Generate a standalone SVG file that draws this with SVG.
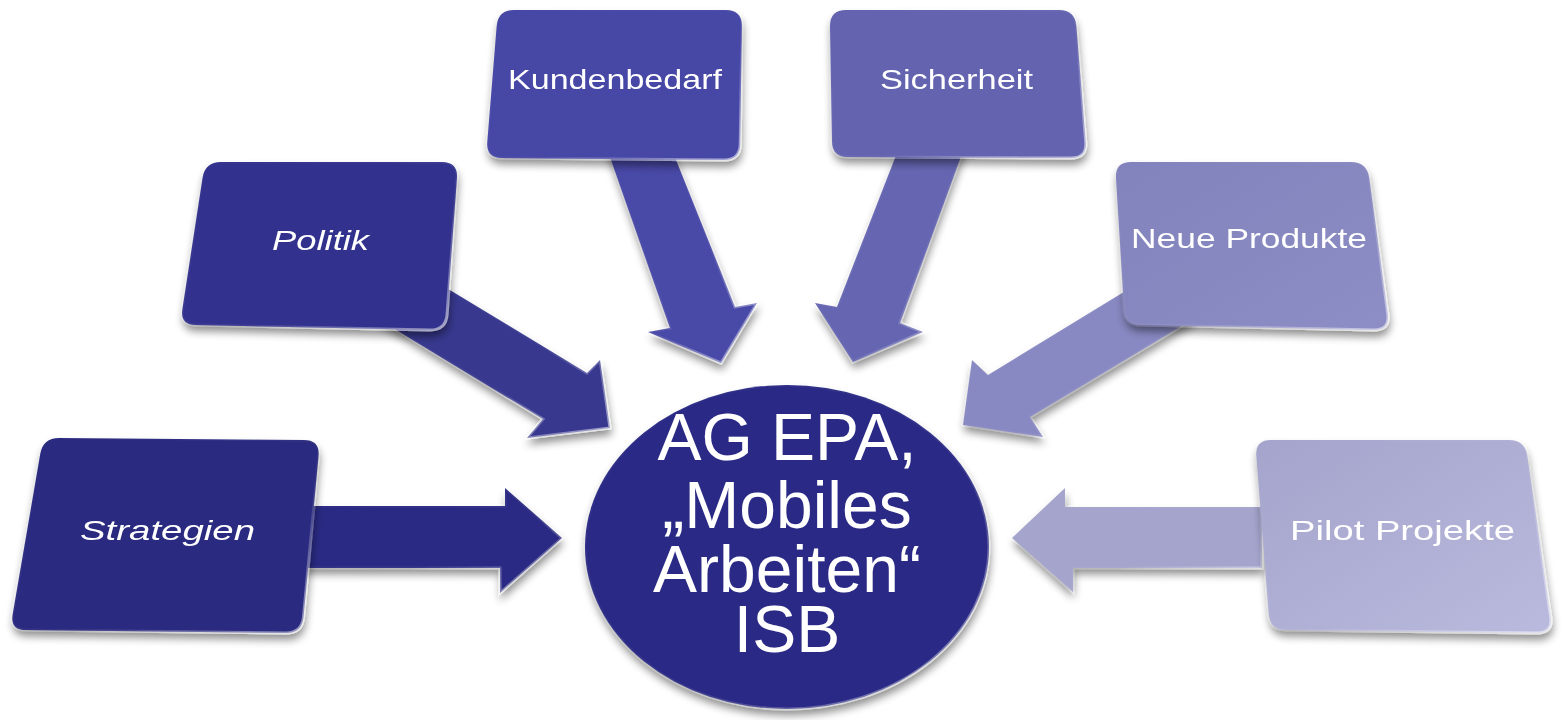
<svg xmlns="http://www.w3.org/2000/svg" width="1565" height="720" viewBox="0 0 1565 720">
<defs>
<filter id="sh" x="-10%" y="-10%" width="125%" height="130%">
<feGaussianBlur in="SourceAlpha" stdDeviation="4"/>
<feOffset dx="1" dy="6" result="b"/>
<feComponentTransfer><feFuncA type="linear" slope="0.45"/></feComponentTransfer>
<feMerge><feMergeNode/><feMergeNode in="SourceGraphic"/></feMerge>
</filter>
<linearGradient id="bevel" x1="0" y1="0" x2="1" y2="1">
<stop offset="0" stop-color="#ffffff" stop-opacity="0"/>
<stop offset="0.6" stop-color="#ffffff" stop-opacity="0.05"/>
<stop offset="1" stop-color="#ffffff" stop-opacity="0.55"/>
</linearGradient>
<linearGradient id="gPilot" x1="0" y1="0" x2="1" y2="1">
<stop offset="0" stop-color="#a4a4cc"/>
<stop offset="1" stop-color="#babade"/>
</linearGradient>
<linearGradient id="gNeue" x1="0" y1="0" x2="1" y2="1">
<stop offset="0" stop-color="#8282bc"/>
<stop offset="1" stop-color="#8e8ec6"/>
</linearGradient>
</defs>
<style>
.bev{fill:none;stroke:url(#bevel);stroke-width:3}
.lbl{font-family:"Liberation Sans",Arial,sans-serif;fill:#ffffff;font-size:28px}
.it{font-style:italic}
.ctr{font-family:"Liberation Sans",Arial,sans-serif;fill:#ffffff;font-size:66px;text-anchor:middle}
</style>

<g id="connectors" filter="url(#sh)">
<g id="arrow-strategien"><polygon points="300,506 505,506 505,488 562,538 500,593 500,568 300,568" fill="#2c2c84"/><polygon class="bev" points="300,506 505,506 505,488 562,538 500,593 500,568 300,568"/></g>
<g id="arrow-politik"><polygon points="420,272 587,373 600,360 610,428 527,438 543,419 375,317" fill="#38388f"/><polygon class="bev" points="420,272 587,373 600,360 610,428 527,438 543,419 375,317"/></g>
<g id="arrow-kundenbedarf"><polygon points="604,140 670,328 648,332 721,363 757,303 735,307 668,140" fill="#4949a8"/><polygon class="bev" points="604,140 670,328 648,332 721,363 757,303 735,307 668,140"/></g>
<g id="arrow-sicherheit"><polygon points="902,140 837,307 815,303 853,362 923,332 900,323 967,140" fill="#6565b2"/><polygon class="bev" points="902,140 837,307 815,303 853,362 923,332 900,323 967,140"/></g>
<g id="arrow-neue"><polygon points="1150,276 988,375 972,360 963,425 1043,437 1030,417 1195,318" fill="#8888c2"/><polygon class="bev" points="1150,276 988,375 972,360 963,425 1043,437 1030,417 1195,318"/></g>
<g id="arrow-pilot"><polygon points="1262,507 1065,507 1065,488 1012,538 1073,592 1073,568 1262,568" fill="#a4a4cc"/><polygon class="bev" points="1262,507 1065,507 1065,488 1012,538 1073,592 1073,568 1262,568"/></g>
</g>

<g id="node-strategien" filter="url(#sh)">
<path d="M59,438 L304,440 Q320,440 318.5,456 L303.5,617 Q302,633 286,633 L26,630 Q10,630 12.7,614.2 L40.3,453.8 Q43,438 59,438 Z" fill="#2a2a80"/>
<path class="bev" d="M59,438 L304,440 Q320,440 318.5,456 L303.5,617 Q302,633 286,633 L26,630 Q10,630 12.7,614.2 L40.3,453.8 Q43,438 59,438 Z"/>
<text class="lbl it" x="80" y="540" font-size="30" textLength="175" lengthAdjust="spacingAndGlyphs">Strategien</text>
</g>

<g id="node-politik" filter="url(#sh)">
<path d="M221,162 L442,162 Q458,162 456.9,178 L447.1,314 Q446,330 430,330 L196,325 Q180,325 182.4,309.2 L202.6,177.8 Q205,162 221,162 Z" fill="#33338e"/>
<path class="bev" d="M221,162 L442,162 Q458,162 456.9,178 L447.1,314 Q446,330 430,330 L196,325 Q180,325 182.4,309.2 L202.6,177.8 Q205,162 221,162 Z"/>
<text class="lbl it" x="272" y="250" textLength="97" lengthAdjust="spacingAndGlyphs">Politik</text>
</g>

<g id="node-kundenbedarf" filter="url(#sh)">
<path d="M514,10 L726,10 Q742,10 741.8,26 L740.2,144 Q740,160 724,160 L502,158 Q486,158 487.3,142 L496.7,26 Q498,10 514,10 Z" fill="#4646a6"/>
<path class="bev" d="M514,10 L726,10 Q742,10 741.8,26 L740.2,144 Q740,160 724,160 L502,158 Q486,158 487.3,142 L496.7,26 Q498,10 514,10 Z"/>
<text class="lbl" x="508" y="89" font-size="25" textLength="214" lengthAdjust="spacingAndGlyphs">Kundenbedarf</text>
</g>

<g id="node-sicherheit" filter="url(#sh)">
<path d="M846,10 L1059,10 Q1075,10 1076.3,26 L1085.7,142 Q1087,158 1071,158 L848,157 Q832,157 832,141 L830,26 Q830,10 846,10 Z" fill="#6363b0"/>
<path class="bev" d="M846,10 L1059,10 Q1075,10 1076.3,26 L1085.7,142 Q1087,158 1071,158 L848,157 Q832,157 832,141 L830,26 Q830,10 846,10 Z"/>
<text class="lbl" x="880" y="89" font-size="25" textLength="153" lengthAdjust="spacingAndGlyphs">Sicherheit</text>
</g>

<g id="node-neue-produkte" filter="url(#sh)">
<path d="M1131,162 L1351,162 Q1367,162 1369.2,177.9 L1387.8,314.1 Q1390,330 1374,330 L1141,325 Q1125,325 1124,309 L1116,178 Q1115,162 1131,162 Z" fill="url(#gNeue)"/>
<path class="bev" d="M1131,162 L1351,162 Q1367,162 1369.2,177.9 L1387.8,314.1 Q1390,330 1374,330 L1141,325 Q1125,325 1124,309 L1116,178 Q1115,162 1131,162 Z"/>
<text class="lbl" x="1131" y="248" textLength="236" lengthAdjust="spacingAndGlyphs">Neue Produkte</text>
</g>

<g id="node-pilot-projekte" filter="url(#sh)">
<path d="M1271,440 L1509,440 Q1525,440 1527.3,455.8 L1550.7,617.2 Q1553,633 1537,633 L1286,630 Q1270,630 1268.7,614 L1256.3,456 Q1255,440 1271,440 Z" fill="url(#gPilot)"/>
<path class="bev" d="M1271,440 L1509,440 Q1525,440 1527.3,455.8 L1550.7,617.2 Q1553,633 1537,633 L1286,630 Q1270,630 1268.7,614 L1256.3,456 Q1255,440 1271,440 Z"/>
<text class="lbl" x="1290" y="540" font-size="29" textLength="225" lengthAdjust="spacingAndGlyphs">Pilot Projekte</text>
</g>

<g id="node-center" filter="url(#sh)">
<ellipse cx="787" cy="547" rx="202" ry="162" fill="#2c2c86"/>
<ellipse class="bev" cx="787" cy="547" rx="202" ry="162"/>
<text class="ctr" x="787" y="460">AG EPA,</text>
<text class="ctr" x="787" y="528">„Mobiles</text>
<text class="ctr" x="787" y="592">Arbeiten“</text>
<text class="ctr" x="787" y="652">ISB</text>
</g>
</svg>
